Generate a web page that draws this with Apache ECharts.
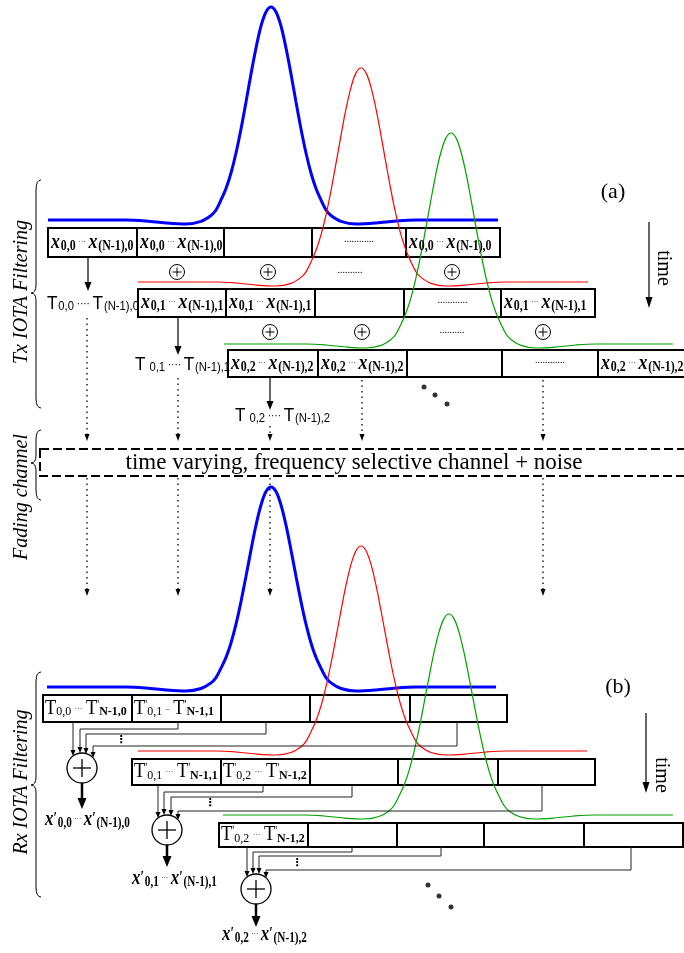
<!DOCTYPE html>
<html><head><meta charset="utf-8">
<script src="https://cdn.jsdelivr.net/npm/echarts@6/dist/echarts.min.js"></script>
<style>html,body{margin:0;padding:0;background:#fff}#c{width:684px;height:953px}</style>
</head><body><div id="c"></div>
<script>
// ---------------- pulse curves ----------------
const txBlue = [[48,220],[126,220],[146,221],[166,223],[186,224],[201,221.4],[211,215.5],[216,210],[221,200],[226,188.5],[231,173],[236,153],[241,129],[246,102],[251,74],[256,48],[261,26],[266,12],[271,7],[276,12],[281,26],[286,48],[291,74],[296,102],[301,129],[306,153],[311,173],[316,188.5],[321,200],[326,210],[331,215.5],[341,221.4],[356,224],[376,223],[396,221],[416,220],[498,220]];
const txRed = [[138,282],[216,282],[236,283],[256,285],[276,286],[291,283.4],[301,277.4],[306,271.8],[311,261.9],[316,250.3],[321,234.9],[326,214.8],[331,190.6],[336,163.4],[341,135.4],[346,108.9],[351,87.3],[356,72.9],[361,68],[366,72.9],[371,87.3],[376,108.9],[381,135.4],[386,163.4],[391,190.6],[396,214.8],[401,234.9],[406,250.3],[411,261.9],[416,271.8],[421,277.4],[431,283.4],[446,286],[466,285],[486,283],[506,282],[588,282]];
const txGreen = [[224,344],[306,344],[326,345],[346,347],[366,348],[381,345.4],[391,339.5],[396,334],[401,324.2],[406,312.8],[411,297.6],[416,277.7],[421,253.9],[426,227.1],[431,199.5],[436,173.3],[441,152],[446,137.9],[451,133],[456,137.9],[461,152],[466,173.3],[471,199.5],[476,227.1],[481,253.9],[486,277.7],[491,297.6],[496,312.8],[501,324.2],[506,334],[511,339.5],[521,345.4],[536,348],[556,347],[576,345],[596,344],[673,344]];
const rxBlue = [[47,687],[126,687],[146,688],[166,690],[186,691],[201,688.5],[211,682.9],[216,677.6],[221,668.2],[226,657.4],[231,643],[236,624.2],[241,601.6],[246,576.2],[251,550],[256,525.2],[261,505],[266,491.6],[271,487],[276,491.6],[281,505],[286,525.2],[291,550],[296,576.2],[301,601.6],[306,624.2],[311,643],[316,657.4],[321,668.2],[326,677.6],[331,682.9],[341,688.5],[356,691],[376,690],[396,688],[416,687],[496,687]];
const rxRed = [[138,751],[216,751],[236,752],[256,754],[276,755],[291,752.5],[301,746.7],[306,741.3],[311,731.7],[316,720.7],[321,705.9],[326,686.6],[331,663.5],[336,637.4],[341,610.6],[346,585.2],[351,564.4],[356,550.7],[361,546],[366,550.7],[371,564.4],[376,585.2],[381,610.6],[386,637.4],[391,663.5],[396,686.6],[401,705.9],[406,720.7],[411,731.7],[416,741.3],[421,746.7],[431,752.5],[446,755],[466,754],[486,752],[506,751],[587,751]];
const rxGreen = [[223,815],[304,815],[324,816],[344,818],[364,819],[379,816.5],[389,810.9],[394,805.5],[399,796.1],[404,785.3],[409,770.8],[414,751.9],[419,729.2],[424,703.6],[429,677.3],[434,652.4],[439,632.1],[444,618.6],[449,614],[454,618.6],[459,632.1],[464,652.4],[469,677.3],[474,703.6],[479,729.2],[484,751.9],[489,770.8],[494,785.3],[499,796.1],[504,805.5],[509,810.9],[519,816.5],[534,819],[554,818],[574,816],[594,815],[673,815]];

// ---------------- block rows ----------------
const txRowEdges = [[48,137,224,312,406,500],[138,226,315,404,501,595],[228,318,407,502,598,692]];
const txRowTops = [228,289,350];
const txRowBottoms = [257,317,377];
const txCellKinds = ['x','x','','dots','x'];
const rxRowEdges = [[43,132,221,310,410,507],[132,221,310,398,498,595],[219,308,397,484,584,683]];
const rxRowTops = [695,759,823];
const rxRowBottoms = [722,785,847];
const rxCellTexts = [
  ["{R|T}{u|0,0}{f|···}{R|T}{q|'}{U|N-1,0}", "{R|T}{q|'}{u|0,1}{f|–}{R|T}{q|'}{U|N-1,1}"],
  ["{R|T}{q|'}{u|0,1}{f|···}{R|T}{q|'}{U|N-1,1}", "{R|T}{q|'}{u|0,2}{f|···}{R|T}{q|'}{U|N-1,2}"],
  ["{R|T}{q|'}{u|0,2}{f|···}{R|T}{q|'}{U|N-1,2}"]
];

// ---------------- summation nodes / dots ----------------
const txSumNodes = [[177,272],[268,272],[452,272],[270,332],[362,332],[543,332]];
const txRowDots = [[350,270],[452,330]];
const rxSumNodes = [[82,768],[167,830],[256,889]];
const txEllipsis = [[424,387],[435,395],[447,404]];
const rxEllipsis = [[428,885],[439,896],[451,907]];
const rxVDots = [[121,740],[210,803],[297,863]];

// ---------------- arrows ----------------
const txDownArrows = [[[88,257],[88,291]],[[178,317],[178,355]],[[270,377],[270,410]]];
const channelIn = [[[87,318],[87,441]],[[178,378],[178,441]],[[270,426],[270,441]],[[362,380],[362,441]],[[543,380],[543,441]]];
const channelOut = [[[87,478],[87,596]],[[178,478],[178,596]],[[270,478],[270,596]],[[543,478],[543,596]]];
const rxFeeds = [
  [[73,722],[73,756]],
  [[178,722],[178,729],[80,729],[80,753]],
  [[266,722],[266,734],[86,734],[86,754]],
  [[457,722],[457,746],[93,746],[93,758]],
  [[158,785],[158,818]],
  [[263,785],[263,792],[164,792],[164,815]],
  [[352,785],[352,797],[171,797],[171,816]],
  [[542,785],[542,811],[178,811],[178,820]],
  [[247,847],[247,877]],
  [[352,847],[352,852],[253,852],[253,874]],
  [[441,847],[441,856],[259,856],[259,874]],
  [[631,847],[631,870],[266,870],[266,878]]
];
const rxOutArrows = [[[82,783],[82,809]],[[167,845],[167,867]],[[256,904],[256,927]]];
const timeArrows = [[[649,222],[649,308]],[[646,713],[646,793]]];

// ---------------- braces and channel ----------------
const braces = [[36,180,293,408],[36,430,463,500],[36,672,785,897]];
const channelBox = [[40,449,700,476]];

// ---------------- texts ----------------
const txTLabels = [
  {at:[47,304], text:'{T|T}{t|0,0}{e|····}{T|T}{t|(N-1),0}'},
  {at:[135,365], text:'{T|T}{t| 0,1}{e|····}{T|T}{t|(N-1),1}'},
  {at:[235,416], text:'{T|T}{t| 0,2}{e|····}{T|T}{t|(N-1),2}'}
];
const rxOutLabels = [
  {at:[45,820], text:"{x|x}{p|′}{s|0,0}{d|···}{x|x}{p|′}{s|(N-1),0}"},
  {at:[132,879], text:"{x|x}{p|′}{s|0,1}{d|···}{x|x}{p|′}{s|(N-1),1}"},
  {at:[222,935], text:"{x|x}{p|′}{s|0,2}{d|···}{x|x}{p|′}{s|(N-1),2}"}
];
const vertLabels = [{at:[22,292], text:'Tx IOTA Filtering'},{at:[22,497], text:'Fading channel'},{at:[22,782], text:'Rx IOTA Filtering'}];
const timeLabels = [{at:[663,268], text:'time'},{at:[661,775], text:'time'}];
const panelLabels = [{at:[613,192], text:'(a)'},{at:[618,687], text:'(b)'}];
const channelLabel = [{at:[354,463], text:'time varying, frequency selective channel + noise'}];

// ---------------- build ----------------
const serif = "'Liberation Serif','Times New Roman',serif";
const sans = "'Liberation Sans',Arial,sans-serif";
const rich = {
  x:{fontFamily:serif,fontStyle:'italic',fontWeight:'bold',fontSize:21,lineHeight:21,verticalAlign:'top'},
  s:{fontFamily:serif,fontWeight:'bold',fontSize:14,lineHeight:14,padding:[12,0,0,1],verticalAlign:'bottom'},
  d:{fontFamily:serif,fontSize:9,lineHeight:9,padding:[5,3,0,3],verticalAlign:'top'},
  p:{fontFamily:serif,fontWeight:'bold',fontSize:16,lineHeight:16,padding:[1,0,0,0],verticalAlign:'top'},
  T:{fontFamily:sans,fontSize:19,lineHeight:19,verticalAlign:'top'},
  t:{fontFamily:sans,fontSize:12.5,lineHeight:12.5,padding:[11,0,0,1],verticalAlign:'bottom'},
  e:{fontFamily:sans,fontSize:11,lineHeight:11,padding:[4,3,0,3],verticalAlign:'top'},
  R:{fontFamily:serif,fontSize:20,lineHeight:20,verticalAlign:'top'},
  q:{fontFamily:serif,fontSize:12,lineHeight:12,verticalAlign:'top'},
  u:{fontFamily:serif,fontSize:13,lineHeight:13,padding:[10,0,0,0],verticalAlign:'bottom'},
  U:{fontFamily:serif,fontWeight:'bold',fontSize:13,lineHeight:13,padding:[10,0,0,0],verticalAlign:'bottom'},
  f:{fontFamily:serif,fontSize:8,lineHeight:8,padding:[6,4,0,4],verticalAlign:'top'}
};

function cellsOf(edges, tops, bottoms){
  const out=[];
  edges.forEach((e,r)=>{for(let i=0;i<e.length-1;i++) out.push([e[i],tops[r],e[i+1],bottoms[r]]);});
  return out;
}
function rectSeries(items, st){
  return {type:'custom',coordinateSystem:'cartesian2d',silent:true,z:2,data:items,
    renderItem:(p,api)=>{const a=api.coord([api.value(0),api.value(1)]),b=api.coord([api.value(2),api.value(3)]);
      return {type:'rect',shape:{x:a[0],y:a[1],width:b[0]-a[0],height:b[1]-a[1]},style:Object.assign({fill:'none',stroke:'#000'},st)};}};
}
function arrowSeries(paths, st){
  return {type:'custom',coordinateSystem:'cartesian2d',silent:true,z:5,data:paths.map((p,i)=>[p[0][0],p[0][1],i]),
    renderItem:(prm,api)=>{
      const pts=paths[api.value(2)].map(q=>api.coord(q));
      const n=pts.length,tip=pts[n-1],prev=pts[n-2];
      const dx=tip[0]-prev[0],dy=tip[1]-prev[1],len=Math.hypot(dx,dy),ux=dx/len,uy=dy/len;
      const base=[tip[0]-ux*st.head,tip[1]-uy*st.head];
      const children=[{type:'polyline',shape:{points:pts.slice(0,n-1).concat([base])},style:{stroke:st.color||'#000',fill:'none',lineWidth:st.width,lineDash:st.dash||null}}];
      if(st.head>0) children.push({type:'polygon',shape:{points:[tip,[base[0]-uy*st.hw,base[1]+ux*st.hw],[base[0]+uy*st.hw,base[1]-ux*st.hw]]},style:{fill:'#000'}});
      return {type:'group',children};
    }};
}
function sumSeries(nodes, r, lw){
  return {type:'custom',coordinateSystem:'cartesian2d',silent:true,z:6,data:nodes,
    renderItem:(p,api)=>{const c=api.coord([api.value(0),api.value(1)]);const k=r*0.6;
      return {type:'group',children:[
        {type:'circle',shape:{cx:c[0],cy:c[1],r:r},style:{fill:'#fff',stroke:'#000',lineWidth:lw}},
        {type:'line',shape:{x1:c[0]-k,y1:c[1],x2:c[0]+k,y2:c[1]},style:{stroke:'#000',lineWidth:lw}},
        {type:'line',shape:{x1:c[0],y1:c[1]-k,x2:c[0],y2:c[1]+k},style:{stroke:'#000',lineWidth:lw}}]};}};
}
function textSeries(items, st, extra){
  extra=extra||{};
  return {type:'custom',coordinateSystem:'cartesian2d',silent:true,z:10,data:items.map((it,i)=>[it.at[0],it.at[1],i]),
    renderItem:(prm,api)=>{const it=items[api.value(2)];const c=api.coord([api.value(0),api.value(1)]);
      return {type:'text',x:c[0],y:c[1],rotation:extra.rotation||0,scaleX:extra.scaleX||1,
        style:Object.assign({text:it.text,rich:rich,fill:'#000'},st)};}};
}
function braceSeries(items){
  return {type:'custom',coordinateSystem:'cartesian2d',silent:true,z:4,data:items,
    renderItem:(p,api)=>{const a=api.coord([api.value(0),api.value(1)]),m=api.coord([api.value(0),api.value(2)]),b=api.coord([api.value(0),api.value(3)]);
      const x=a[0];
      const d=`M ${x+5} ${a[1]} Q ${x} ${a[1]} ${x} ${a[1]+10} L ${x} ${m[1]-8} Q ${x} ${m[1]} ${x-5} ${m[1]} Q ${x} ${m[1]} ${x} ${m[1]+8} L ${x} ${b[1]-10} Q ${x} ${b[1]} ${x+5} ${b[1]}`;
      return {type:'path',shape:{pathData:d},style:{fill:'none',stroke:'#000',lineWidth:1}};}};
}
function dotSeries(pts,size){
  return {type:'scatter',data:pts,symbolSize:size,itemStyle:{color:'#000'},silent:true,z:6};
}
function pulse(data,color,width){
  return {type:'line',data:data,smooth:0.35,showSymbol:false,symbol:'none',lineStyle:{color:color,width:width},z:3,silent:true};
}

const txCellLabels=[], txCellDots=[];
txRowEdges.forEach((e,r)=>{
  txCellKinds.forEach((k,i)=>{
    const cy=(txRowTops[r]+txRowBottoms[r])/2;
    if(k==='x') txCellLabels.push({at:[e[i]+3,cy],text:`{x|x}{s|0,${r}}{d|···}{x|x}{s|(N-1),${r}}`});
    if(k==='dots') txCellDots.push({at:[(e[i]+e[i+1])/2,cy-3],text:'............'});
  });
});
const rxCellLabels=[];
rxCellTexts.forEach((row,r)=>row.forEach((t,i)=>rxCellLabels.push({at:[rxRowEdges[r][i]+2,(rxRowTops[r]+rxRowBottoms[r])/2],text:t})));
const rowDotLabels = txRowDots.map(p=>({at:p,text:'..........'}));
const vdotLabels = rxVDots.map(p=>({at:p,text:'⋮'}));

const chart = echarts.init(document.getElementById('c'),null,{renderer:'canvas'});
chart.setOption({
  animation:false,
  backgroundColor:'#fff',
  grid:{left:0,right:0,top:0,bottom:0},
  xAxis:{type:'value',min:0,max:684,show:false},
  yAxis:{type:'value',min:0,max:953,inverse:true,show:false},
  series:[
    rectSeries(cellsOf(txRowEdges,txRowTops,txRowBottoms),{lineWidth:2}),
    rectSeries(cellsOf(rxRowEdges,rxRowTops,rxRowBottoms),{lineWidth:2}),
    rectSeries(channelBox.map(b=>[b[0],b[1],b[2],b[3]]),{lineWidth:2,lineDash:[9,4]}),
    pulse(txBlue,'#0000ff',3), pulse(txRed,'#ff0000',1.2), pulse(txGreen,'#00a000',1.2),
    pulse(rxBlue,'#0000ff',3), pulse(rxRed,'#ff0000',1.2), pulse(rxGreen,'#00a000',1.2),
    arrowSeries(txDownArrows,{width:1.2,head:9,hw:3.5}),
    arrowSeries(channelIn,{width:1.3,dash:[1.5,4],head:7,hw:2.5}),
    arrowSeries(channelOut,{width:1.3,dash:[1.5,4],head:7,hw:2.5}),
    arrowSeries(rxFeeds,{width:1,head:6,hw:2.5,color:'#222'}),
    arrowSeries(rxOutArrows,{width:2.5,head:11,hw:4.5}),
    arrowSeries(timeArrows,{width:1.2,head:11,hw:3.5}),
    sumSeries(txSumNodes,7.5,1),
    sumSeries(rxSumNodes,15,1.3),
    dotSeries(txEllipsis,5), dotSeries(rxEllipsis,5),
    braceSeries(braces),
    textSeries(txCellLabels,{align:'left',verticalAlign:'middle'},{scaleX:0.85}),
    textSeries(txCellDots,{align:'center',verticalAlign:'middle',font:"10px "+serif}),
    textSeries(rowDotLabels,{align:'center',verticalAlign:'middle',font:"10px "+serif}),
    textSeries(txTLabels,{align:'left',verticalAlign:'middle'},{scaleX:0.9}),
    textSeries(rxCellLabels,{align:'left',verticalAlign:'middle'},{scaleX:0.92}),
    textSeries(rxOutLabels,{align:'left',verticalAlign:'middle'},{scaleX:0.8}),
    textSeries(vdotLabels,{align:'center',verticalAlign:'middle',font:"bold 11px 'DejaVu Sans'"}),
    textSeries(vertLabels,{align:'center',verticalAlign:'middle',font:"italic 20px "+serif},{rotation:Math.PI/2}),
    textSeries(timeLabels,{align:'center',verticalAlign:'middle',font:"20px "+serif},{rotation:-Math.PI/2}),
    textSeries(panelLabels,{align:'center',verticalAlign:'middle',font:"22px "+serif}),
    textSeries(channelLabel,{align:'center',verticalAlign:'middle',font:"23px "+serif})
  ]
});
</script></body></html>
